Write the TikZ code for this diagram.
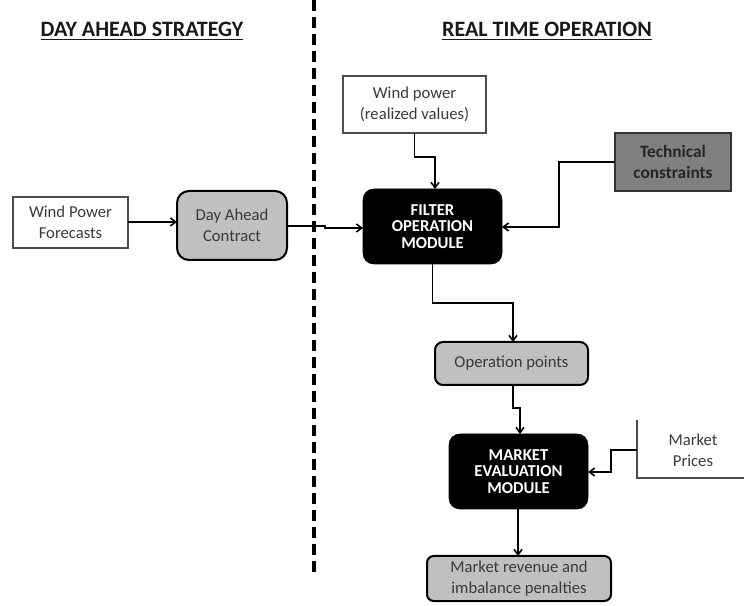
\documentclass[tikz,border=0pt]{standalone}
\usepackage{fontspec}
\setmainfont{Carlito}
\usetikzlibrary{arrows.meta}
\definecolor{txt}{HTML}{3A3A3A}
\definecolor{lgray}{HTML}{C0C0C0}
\definecolor{dgray}{HTML}{808080}
\begin{document}
\begin{tikzpicture}[x=0.75pt,y=-0.75pt,
  base/.style={inner sep=0pt,outer sep=0pt,align=center,text=txt,font=\fontsize{12.5}{16}\selectfont},
  plainbox/.style={base,draw=black!70,line width=0.8pt,fill=white},
  graybox/.style={base,draw=black,line width=1.5pt,fill=lgray},
  blackbox/.style={base,draw=black,fill=black,rounded corners=8pt,text=white,font=\fontsize{12.5}{12.5}\selectfont\bfseries},
  techbox/.style={base,draw=black!80,line width=1pt,fill=dgray,text=black!85,font=\fontsize{13}{16}\selectfont\bfseries},
  title/.style={inner sep=0pt,text=black!90,font=\fontsize{16.5}{18}\selectfont\bfseries},
  conn/.style={draw=black,line width=1.2pt,-{Straight Barb[length=4pt,width=6pt]}},
  wire/.style={draw=black,line width=1.2pt},
  thinline/.style={draw=black!70,line width=0.8pt}]
\useasboundingbox (0,0) rectangle (744,606);

% titles
\node[title] (t1) at (142,31) {\underline{DAY AHEAD STRATEGY}};
\node[title] (t2) at (547,31) {\underline{REAL TIME OPERATION}};

% dashed separator
\coordinate (d1) at (314,0);
\coordinate (d2) at (314,572);
\draw[line width=2.6pt,dash pattern=on 8.25pt off 4.5pt] (d1) -- (d2);

% boxes
\node[plainbox,minimum width=86.25pt,minimum height=38.25pt] (wpf) at (70.5,222.5) {Wind Power\\Forecasts};
\node[graybox,rounded corners=9pt,minimum width=82.5pt,minimum height=51.75pt] (dac) at (232,225.5) {Day Ahead\\Contract};
\node[blackbox,minimum width=104.25pt,minimum height=56.25pt] (filter) at (432.5,226.5) {FILTER\\OPERATION\\MODULE};
\node[plainbox,minimum width=107.25pt,minimum height=42.75pt] (wpr) at (414.5,104.5) {Wind power\\(realized values)};
\node[techbox,minimum width=87pt,minimum height=43.5pt] (tech) at (673,162) {Technical\\constraints};
\node[graybox,rounded corners=6pt,minimum width=114.75pt,minimum height=32.25pt] (op) at (511.5,363.5) {Operation points};
\node[blackbox,minimum width=104.25pt,minimum height=56.25pt] (mkt) at (518.5,471.5) {MARKET\\EVALUATION\\MODULE};
\node[graybox,rounded corners=5pt,minimum width=138pt,minimum height=33.75pt] (rev) at (519,578.5) {Market revenue and\\imbalance penalties};

% market prices open box
\coordinate (mp1) at (637,420);
\coordinate (mp2) at (637,478);
\coordinate (mp3) at (744,478);
\draw[thinline] (mp1) -- (mp2) -- (mp3);
\node[base] (mp) at (693,450) {Market\\Prices};

% connectors
\draw[conn] (wpf.east |- 0,222) -- (dac.west |- 0,222);

\coordinate (a1) at (325,226);
\coordinate (a2) at (325,228);
\draw[conn] (dac.east |- a1) -- (a1) -- (a2) -- (filter.west |- a2);

\coordinate (b1) at (414.5,157);
\coordinate (b2) at (435,157);
\draw[conn] (wpr.south) -- (b1) -- (b2) -- (filter.north -| b2);

\coordinate (c1) at (559,162);
\coordinate (c2) at (559,227);
\draw[conn] (tech.west) -- (c1) -- (c2) -- (filter.east |- c2);

\coordinate (e1) at (432.5,303);
\coordinate (e2) at (513,303);
\draw[conn] (filter.south) -- (e1) -- (e2) -- (op.north -| e2);

\coordinate (f0) at (513,385);
\coordinate (f1) at (513,408);
\coordinate (f2) at (520,408);
\draw[conn] (op.south -| f0) -- (f1) -- (f2) -- (mkt.north -| f2);

\coordinate (g0) at (637,450);
\coordinate (g1) at (611,450);
\coordinate (g2) at (611,472);
\draw[conn] (g0) -- (g1) -- (g2) -- (mkt.east |- g2);

\coordinate (h0) at (518,509);
\draw[conn] (mkt.south -| h0) -- (rev.north -| h0);
\end{tikzpicture}
\end{document}
